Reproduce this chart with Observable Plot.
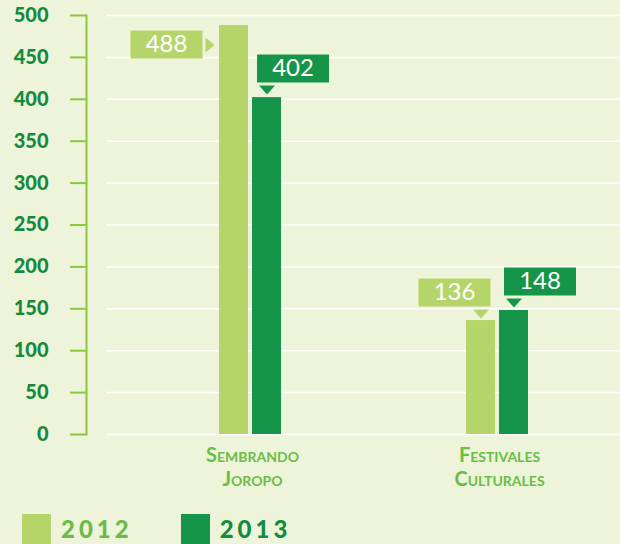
<!DOCTYPE html>
<html><head><meta charset="utf-8">
<script src="https://cdn.jsdelivr.net/npm/d3@7"></script>
<script src="https://cdn.jsdelivr.net/npm/@observablehq/plot@0.6"></script>
<style>
html,body{margin:0;padding:0;background:#eef4d9;}
body{width:620px;height:544px;overflow:hidden;font-family:Lato,"Open Sans",sans-serif;}
#chart svg{display:block;}
#chart text.cat{letter-spacing:1.6px;}
#legend{display:flex;align-items:flex-start;margin-top:6px;padding-left:22px;height:30px;}
#legend .item{display:flex;align-items:flex-start;margin-right:48px;}
#legend .sw{width:29px;height:30px;}
#legend .lb{margin-left:10px;font-size:24px;font-weight:900;letter-spacing:4px;line-height:30px;}
</style></head>
<body><div id="chart"></div><div id="legend"></div>
<script>
const categories = ["Sembrando Joropo", "Festivales Culturales"];
const categoryLabels = ["Sembrando\nJoropo", "Festivales\nCulturales"];
const years = ["2012", "2013"];
const values2012 = [488, 136];
const values2013 = [402, 148];
const yTicks = [0, 50, 100, 150, 200, 250, 300, 350, 400, 450, 500];

const colors = {"2012": "#b5d56a", "2013": "#14954a"};
const legendText = {"2012": "#6cba48", "2013": "#128c3f"};

const rows = categories.flatMap((c, i) => [
  {category: c, year: years[0], value: values2012[i]},
  {category: c, year: years[1], value: values2013[i]}
]);
const maxVal = d3.max(rows, d => d.value);
const isSide = d => d.value === maxVal;

function callout(box, arrow) {
  return {draw(ctx) {
    ctx.moveTo(box[0], box[1]); ctx.lineTo(box[2], box[1]); ctx.lineTo(box[2], box[3]); ctx.lineTo(box[0], box[3]); ctx.closePath();
    ctx.moveTo(arrow[0][0], arrow[0][1]); ctx.lineTo(arrow[1][0], arrow[1][1]); ctx.lineTo(arrow[2][0], arrow[2][1]); ctx.closePath();
  }};
}
const sideShape = callout([-103.5, 5, -31.5, 33], [[-28.5, 12], [-28.5, 27], [-19.5, 19.5]]);
const downLeftShape = callout([-62.5, -42, 9.5, -14], [[-8, -11], [8, -11], [0, -2]]);
const downRightShape = callout([-10, -43, 62, -15], [[-8, -12], [8, -12], [0, -3]]);

const r12 = rows.filter(d => d.year === "2012");
const r13 = rows.filter(d => d.year === "2013");
const valueFont = {fill: "white", fontSize: 24, fontFamily: "Lato, sans-serif"};

const chart = Plot.plot({
  width: 620, height: 508,
  marginLeft: 86, marginRight: 0, marginTop: 15, marginBottom: 74,
  style: {background: "transparent", fontFamily: "Lato, sans-serif", overflow: "visible"},
  x: {domain: categories, paddingInner: 0.749, paddingOuter: 0.453, align: 0.593, axis: null},
  y: {domain: [0, 500], label: null},
  marks: [
    Plot.ruleY(yTicks, {stroke: "#ffffff", strokeWidth: 1.5, insetLeft: 20}),
    Plot.frame({anchor: "left", stroke: "#8cc63f", strokeWidth: 2}),
    Plot.axisY({ticks: yTicks, anchor: "left", label: null, tickSize: 16, tickPadding: 22, stroke: "#8cc63f", strokeWidth: 2, fill: "#138a3e", fontSize: 20, fontWeight: "900"}),
    Plot.barY(r12, {x: "category", y: "value", fill: colors["2012"], insetRight: 33}),
    Plot.barY(r13, {x: "category", y: "value", fill: colors["2013"], insetLeft: 33}),
    Plot.dot(r12.filter(isSide), {x: "category", y: "value", dx: -16.5, symbol: sideShape, fill: colors["2012"]}),
    Plot.text(r12.filter(isSide), {x: "category", y: "value", text: d => String(d.value), dx: -84, dy: 19, ...valueFont}),
    Plot.dot(r12.filter(d => !isSide(d)), {x: "category", y: "value", dx: -16.5, symbol: downLeftShape, fill: colors["2012"]}),
    Plot.text(r12.filter(d => !isSide(d)), {x: "category", y: "value", text: d => String(d.value), dx: -43, dy: -28, ...valueFont}),
    Plot.dot(r13, {x: "category", y: "value", dx: 16.5, symbol: downRightShape, fill: colors["2013"]}),
    Plot.text(r13, {x: "category", y: "value", text: d => String(d.value), dx: 42.5, dy: -29, ...valueFont}),
    Plot.text(categories, {x: d => d, frameAnchor: "bottom", text: (d, i) => categoryLabels[i], lineAnchor: "top", dy: 10, dx: 2, lineHeight: 1.2, fontSize: 20, fontWeight: "bold", fontVariant: "small-caps", fill: "#6abd45", className: "cat"})
  ]
});
document.getElementById("chart").appendChild(chart);

const legend = d3.select("#legend");
years.forEach(y => {
  const it = legend.append("div").attr("class", "item");
  it.append("div").attr("class", "sw").style("background", colors[y]);
  it.append("div").attr("class", "lb").style("color", legendText[y]).text(y);
});
</script></body></html>
